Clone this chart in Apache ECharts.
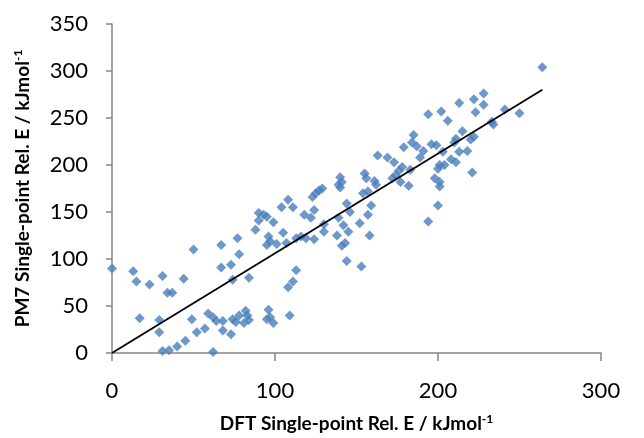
<!DOCTYPE html>
<html>
<head>
<meta charset="utf-8">
<script src="https://cdn.jsdelivr.net/npm/echarts@6/dist/echarts.min.js"></script>
<style>
html, body { margin: 0; padding: 0; background: #fff; }
#chart { width: 644px; height: 438px; }
</style>
</head>
<body>
<div id="chart"></div>
<script>
// DFT vs PM7 single-point relative energies (kJ/mol)
var points = [
    [0, 90], [13, 87], [15, 76], [23, 73], [31, 82], [34, 64], [37, 64], [44, 79], [50, 110],
    [17, 37], [29, 35], [29, 22], [31, 2], [35, 3], [40, 7], [45, 13], [49, 36], [52, 22], [57, 26], [62, 1],
    [59, 42], [62, 38], [64, 34], [68, 34], [68, 24], [73, 20], [74, 36], [76, 33], [78, 40], [81, 32],
    [82, 45], [83, 40], [84, 35], [95, 36], [96, 46], [97, 38], [99, 32], [109, 40],
    [108, 70], [111, 76], [113, 88],
    [67, 91], [73, 94], [78, 105], [67, 115], [77, 122], [74, 78], [84, 80], [88, 131],
    [90, 149], [90, 141], [95, 145], [99, 139], [96, 124], [95, 115], [97, 119], [101, 116],
    [105, 128], [107, 117], [104, 155], [108, 163], [111, 155], [113, 122], [93, 147],
    [116, 124], [119, 122], [124, 121], [130, 129], [138, 125], [145, 129], [143, 117], [141, 114],
    [158, 125], [144, 98], [153, 92],
    [118, 147], [122, 144], [124, 152], [123, 166], [125, 170], [127, 173], [129, 175], [130, 137],
    [140, 187], [141, 182], [139, 179], [140, 176], [139, 144], [142, 136], [144, 159], [146, 150],
    [152, 138], [157, 147], [159, 157], [154, 170], [157, 172], [155, 191], [156, 186], [161, 183], [162, 179],
    [163, 210], [169, 208], [173, 203], [178, 198], [176, 194], [174, 189], [172, 186], [177, 182],
    [182, 178], [183, 195], [179, 219], [185, 232], [184, 224], [187, 220], [191, 215], [189, 208], [196, 222],
    [194, 140], [200, 157], [201, 200], [204, 200], [200, 196], [198, 186], [201, 182], [201, 177],
    [199, 221], [203, 214], [213, 214], [218, 215], [208, 206], [211, 203], [221, 192], [210, 224],
    [211, 228], [215, 236], [220, 227], [222, 230], [233, 246], [234, 243], [206, 247], [194, 254],
    [202, 257], [213, 266], [222, 270], [228, 276], [228, 264], [223, 256], [241, 259], [250, 255], [264, 304]
];
// linear trendline end points
var trend = [[0, 0], [264, 280]];

var xTicks = { min: 0, max: 300, interval: 100 };
var yTicks = { min: 0, max: 350, interval: 50 };

var chart = echarts.init(document.getElementById('chart'));
var axisGray = '#868686';
var labelFont = { color: '#000', fontFamily: 'Lato', fontSize: 22 };
var titleFont = {
    color: '#000', fontFamily: 'Lato', fontSize: 19, fontWeight: 'bold',
    rich: { sup: { fontSize: 12, fontWeight: 'bold', fontFamily: 'Lato', verticalAlign: 'top', padding: [0, 0, 9, 0] } }
};

chart.setOption({
    animation: false,
    grid: { left: 112, right: 43, top: 24, bottom: 82 },
    xAxis: {
        type: 'value',
        min: xTicks.min, max: xTicks.max, interval: xTicks.interval,
        name: 'DFT Single-point Rel. E / kJmol{sup|-1}',
        nameLocation: 'middle',
        nameGap: 60,
        nameTextStyle: titleFont,
        axisLine: { lineStyle: { color: axisGray, width: 1.5 } },
        axisTick: { length: 8, lineStyle: { color: axisGray, width: 1.5 } },
        axisLabel: Object.assign({ margin: 27 }, labelFont),
        splitLine: { show: false }
    },
    yAxis: {
        type: 'value',
        min: yTicks.min, max: yTicks.max, interval: yTicks.interval,
        name: 'PM7 Single-point Rel. E / kJmol{sup|-1}',
        nameLocation: 'middle',
        nameGap: 79,
        nameTextStyle: titleFont,
        axisLine: { show: true, lineStyle: { color: axisGray, width: 1.5 } },
        axisTick: { show: true, length: 6, lineStyle: { color: axisGray, width: 1.5 } },
        axisLabel: Object.assign({ margin: 24 }, labelFont),
        splitLine: { show: false }
    },
    series: [
        {
            type: 'scatter',
            data: points,
            symbol: 'diamond',
            symbolSize: 10,
            itemStyle: { color: '#4A7EBB' }
        },
        {
            type: 'line',
            data: trend,
            symbol: 'none',
            lineStyle: { color: '#000', width: 1.8 },
            z: 3
        }
    ]
});
</script>
</body>
</html>
